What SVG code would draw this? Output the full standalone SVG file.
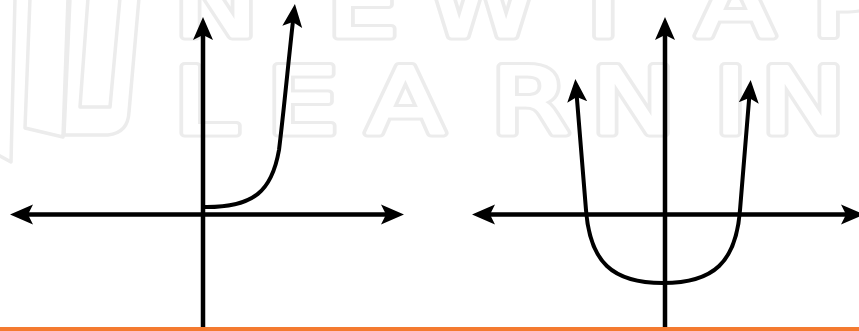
<svg xmlns="http://www.w3.org/2000/svg" width="859" height="331" viewBox="0 0 859 331">
<style>
.wm{fill:none;stroke:#ececec;stroke-width:3.5;stroke-linejoin:round}
.wmt{font-family:"DejaVu Sans","Liberation Sans",sans-serif;font-weight:normal;font-size:90px;stroke-linejoin:round}
.wmo{fill:#ececec;stroke:#ececec;stroke-width:9}
.wmi{fill:#ffffff;stroke:#ffffff;stroke-width:3}
.ax{fill:none;stroke:#000;stroke-width:4.5;marker-start:url(#arr);marker-end:url(#arr)}
.cv{fill:none;stroke:#000;stroke-width:4;stroke-linejoin:round}
</style>
<defs>
<marker id="arr" markerUnits="userSpaceOnUse" markerWidth="24" markerHeight="22" viewBox="0 0 24 22" refX="15" refY="11" orient="auto-start-reverse">
<path d="M23,11 L0,1 L5,11 L0,21 Z" fill="#000"/>
</marker>
</defs>
<rect width="859" height="331" fill="#fff"/>
<g id="watermark">
<path class="wm" d="M15,-2 L11,162 L-2,155"/>
<path class="wm" d="M30,-2 L25,128 L63,137 L68,-2"/>
<path class="wm" d="M70,-2 L64,135 L108,135 Q128,133 129,112 L139,-2"/>
<path class="wm" d="M88,-2 L80,107 L110,107 L120,-2"/>
<g transform="scale(1.25,1)">
<text class="wmt wmo" x="139.2 261.6 341.6 455.2 557.6 649.6" y="36">NEWTAP</text>
<text class="wmt wmo" x="139.2 213.6 293.6 392.8 472.8 571.2 608.8" y="133">LEARNIN</text>
<text class="wmt wmi" x="139.2 261.6 341.6 455.2 557.6 649.6" y="36" aria-hidden="true">NEWTAP</text>
<text class="wmt wmi" x="139.2 213.6 293.6 392.8 472.8 571.2 608.8" y="133" aria-hidden="true">LEARNIN</text>
</g>
</g>
<g id="graph-left">
<g id="axes-left">
<line class="ax" x1="18" y1="214.5" x2="396" y2="214.5"/>
<line class="ax" x1="203" y1="331" x2="203" y2="25" style="marker-start:none"/>
</g>
<g id="curve-left">
<path class="cv" d="M203,207 C255,208 272,190 279,150 C284,110 289,55 294,12" marker-end="url(#arr)"/>
</g>
</g>
<g id="graph-right">
<g id="axes-right">
<line class="ax" x1="480" y1="214.5" x2="856" y2="214.5"/>
<line class="ax" x1="665" y1="331" x2="665" y2="25" style="marker-start:none"/>
</g>
<g id="curve-right">
<path class="cv" d="M576,87 L586,210 C590,262 612,283 663,283 C714,283 736,262 740,210 L750,88" marker-start="url(#arr)" marker-end="url(#arr)"/>
</g>
</g>
<rect id="bar" x="0" y="327" width="859" height="4" fill="#F47A30"/>
</svg>
